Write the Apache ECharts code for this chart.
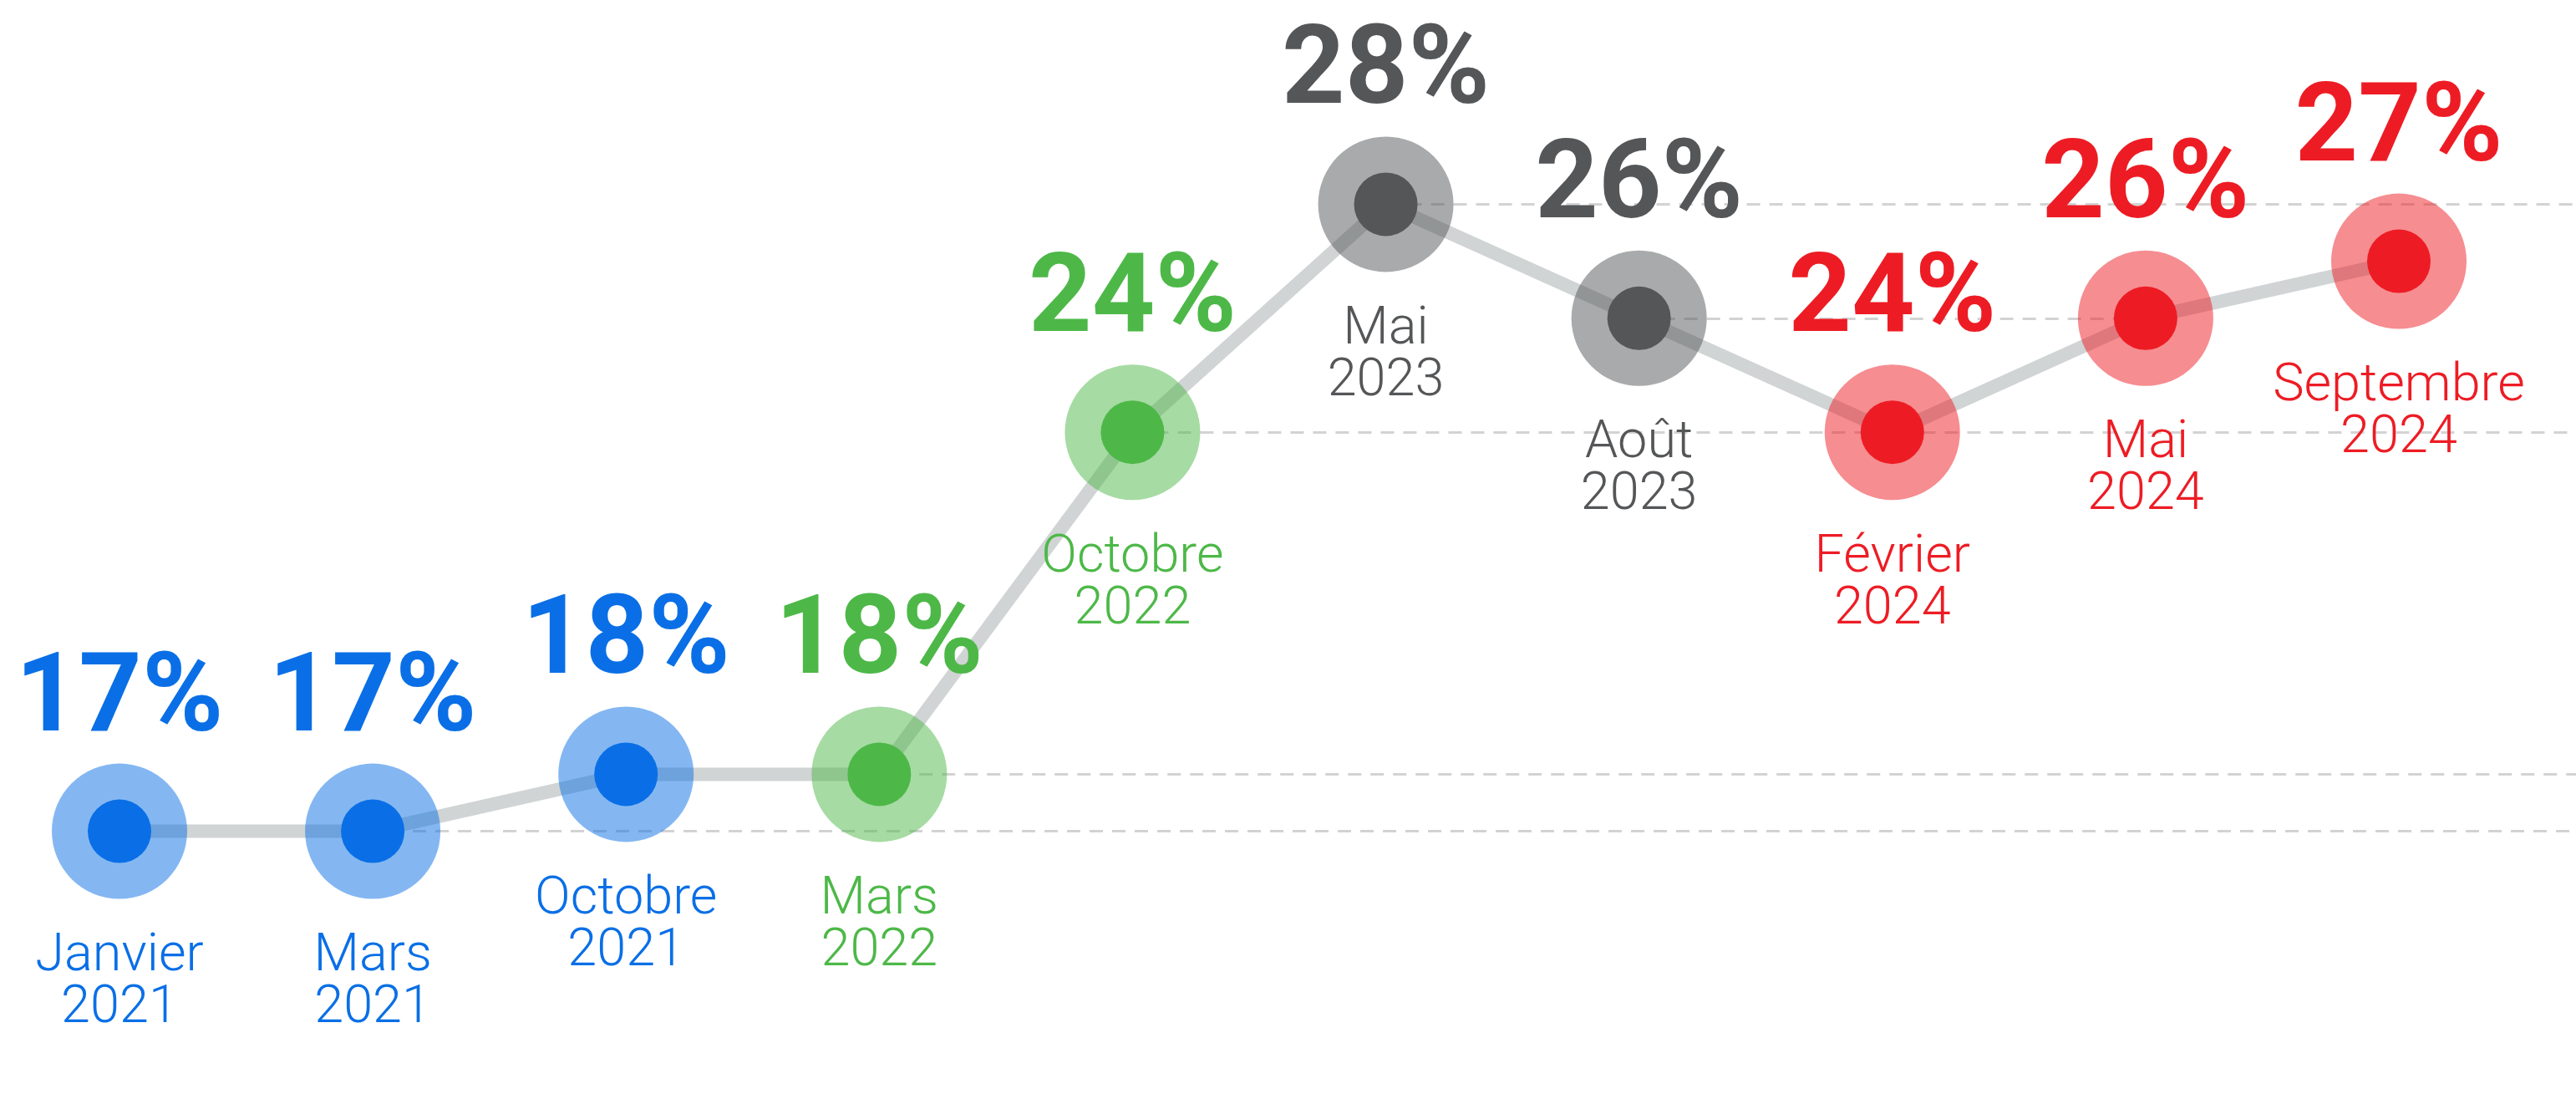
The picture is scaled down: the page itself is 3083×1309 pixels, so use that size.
<!DOCTYPE html>
<html>
<head>
<meta charset="utf-8">
<script src="https://cdn.jsdelivr.net/npm/echarts@6/dist/echarts.min.js"></script>
<style>
  html, body { margin: 0; padding: 0; background: #fff; }
  #chart { width: 3083px; height: 1309px; }
</style>
</head>
<body>
<div id="chart"></div>
<script>
// Évolution 2021-2024 : un point par vague, couleur par période
const categories = ['Janvier 2021', 'Mars 2021', 'Octobre 2021', 'Mars 2022', 'Octobre 2022',
  'Mai 2023', 'Août 2023', 'Février 2024', 'Mai 2024', 'Septembre 2024'];
const values = [17, 17, 18, 18, 24, 28, 26, 24, 26, 27];
const periods = ['bleu', 'bleu', 'bleu', 'vert', 'vert', 'gris', 'gris', 'rouge', 'rouge', 'rouge'];
// pointillés horizontaux : niveau -> catégorie où il s'arrête (sinon jusqu'au bord droit)
const guideLevels = [17, 18, 24, 26, 28];
const guideStops = { 26: 'Mai 2024' };

const COLORS = { bleu: '#0a6fe6', vert: '#4db848', gris: '#545658', rouge: '#ed1c24' };
const FONT = '"Roboto Light", Roboto, "Noto Sans", sans-serif';
const FONT_BOLD = 'Roboto, "Noto Sans", sans-serif';

const rgba = (hex, a) => {
  const n = parseInt(hex.slice(1), 16);
  return `rgba(${n >> 16},${(n >> 8) & 255},${n & 255},${a})`;
};
const colorOf = i => COLORS[periods[i]];

const guides = guideLevels.map(lvl => {
  const start = values.indexOf(lvl);
  const stop = guideStops[lvl];
  const end = stop != null
    ? { coord: [categories.indexOf(stop), lvl] }
    : { coord: [categories.length - 1, lvl], x: '100%' };
  return [{ coord: [start, lvl] }, end];
});

const chart = echarts.init(document.getElementById('chart'), null, { renderer: 'canvas' });
chart.setOption({
  backgroundColor: '#ffffff',
  animation: false,
  grid: { left: 143, right: 212, top: 108, bottom: 178 },
  xAxis: { type: 'category', data: categories, boundaryGap: false, show: false },
  yAxis: { type: 'value', min: 15, max: 30, show: false, splitLine: { show: false } },
  series: [
    {
      // support des pointillés, sous la ligne grise
      type: 'line', data: values, z: 1, clip: false, silent: true,
      symbol: 'none', lineStyle: { opacity: 0 },
      markLine: {
        z: 1, silent: true, symbol: 'none', animation: false,
        label: { show: false },
        lineStyle: { color: '#d3d3d3', type: [16, 11], width: 3, opacity: 1 },
        emphasis: { disabled: true },
        data: guides,
      },
    },
    {
      type: 'line', data: values, z: 2, silent: true,
      symbol: 'none',
      lineStyle: { color: '#d0d4d4', width: 16, cap: 'butt', join: 'round', opacity: 1 },
    },
    {
      // halo + libellé de date dessous
      type: 'scatter', z: 3, silent: true, symbolSize: 162,
      data: values.map((v, i) => ({
        value: [i, v],
        itemStyle: { color: rgba(colorOf(i), 0.5), opacity: 1 },
        label: { color: colorOf(i) },
      })),
      label: {
        show: true, position: 'bottom', distance: 36,
        formatter: p => categories[p.dataIndex].replace(' ', '\n'),
        fontFamily: FONT, fontWeight: 300, fontSize: 63, lineHeight: 62, align: 'center',
      },
      emphasis: { disabled: true },
    },
    {
      // point plein + pourcentage au-dessus
      type: 'scatter', z: 4, silent: true, symbolSize: 76,
      data: values.map((v, i) => ({
        value: [i, v],
        itemStyle: { color: colorOf(i), opacity: 1 },
        label: { color: colorOf(i) },
      })),
      label: {
        show: true, position: 'top', distance: 50,
        formatter: p => p.value[1] + '%',
        fontFamily: FONT_BOLD, fontWeight: 'bold', fontSize: 132,
      },
      emphasis: { disabled: true },
    },
  ],
});
</script>
</body>
</html>
